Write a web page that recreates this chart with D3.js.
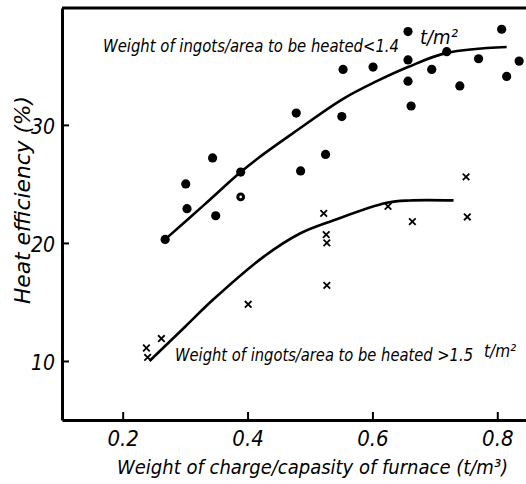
<!DOCTYPE html>
<html>
<head>
<meta charset="utf-8">
<script src="https://cdn.jsdelivr.net/npm/d3@7"></script>
<style>
  body { margin: 0; background: #fff; }
  svg text { font-family: "Liberation Sans Narrow", "DejaVu Sans Condensed", sans-serif; font-style: italic; fill: #000; }
</style>
</head>
<body>
<script>
// filled circles: weight of ingots/area < 1.4 t/m2
var lowLoadX = [0.268, 0.301, 0.303, 0.344, 0.349, 0.389, 0.478, 0.485, 0.525, 0.551, 0.553, 0.601, 0.657, 0.657, 0.657, 0.662, 0.695, 0.719, 0.740, 0.770, 0.807, 0.815, 0.835];
var lowLoadY = [20.3, 25.0, 22.9, 27.2, 22.3, 26.0, 31.0, 26.1, 27.5, 30.7, 34.7, 34.9, 37.9, 35.5, 33.7, 31.6, 34.7, 36.2, 33.3, 35.6, 38.1, 34.1, 35.4];
// the ringed point
var ringX = [0.389];
var ringY = [23.9];

// crosses: weight of ingots/area > 1.5 t/m2
var highLoadX = [0.238, 0.240, 0.262, 0.401, 0.522, 0.526, 0.527, 0.527, 0.625, 0.664, 0.750, 0.752];
var highLoadY = [11.1, 10.3, 11.9, 14.8, 22.5, 20.7, 20.0, 16.4, 23.1, 21.8, 25.6, 22.2];

// fitted curves
var upperCurveX = [0.268, 0.33, 0.389, 0.42, 0.473, 0.553, 0.607, 0.657, 0.719, 0.815];
var upperCurveY = [20.3, 23.2, 26.0, 27.3, 29.3, 32.2, 33.7, 34.9, 36.1, 36.6];
var lowerCurveX = [0.243, 0.30, 0.345, 0.425, 0.484, 0.537, 0.623, 0.66, 0.73];
var lowerCurveY = [10.0, 12.9, 15.2, 18.8, 20.8, 21.9, 23.4, 23.6, 23.6];

var xTicks = [0.2, 0.4, 0.6, 0.8];
var yTicks = [10, 20, 30];

function init() {
    var width = 526;
    var height = 484;

    var svg = d3.select("body").append("svg")
        .attr("width", width)
        .attr("height", height);

    var x = d3.scaleLinear().domain([0.1028, 0.846]).range([62, 526]);
    var y = d3.scaleLinear().domain([5, 39.9]).range([420, 8]);

    // axes with inner ticks
    var xAxis = svg.append("g")
        .attr("transform", "translate(0,420)")
        .call(d3.axisBottom(x).tickValues(xTicks).tickSizeInner(-8).tickSizeOuter(0).tickFormat(d3.format(".1f")));
    xAxis.select(".domain").attr("stroke-width", 3);
    xAxis.selectAll(".tick line").attr("stroke-width", 2);
    xAxis.selectAll(".tick text")
        .attr("y", 26)
        .attr("dy", 0)
        .attr("font-size", 22);

    var yAxis = svg.append("g")
        .attr("transform", "translate(62,0)")
        .call(d3.axisLeft(y).tickValues(yTicks).tickSizeInner(-7).tickSizeOuter(0));
    yAxis.select(".domain").attr("stroke-width", 3);
    yAxis.selectAll(".tick line").attr("stroke-width", 2);
    yAxis.selectAll(".tick text")
        .attr("x", -7)
        .attr("dy", "0.4em")
        .attr("font-size", 21);
    yAxis.selectAll("text").attr("font-family", null);
    xAxis.selectAll("text").attr("font-family", null);

    // top frame line
    svg.append("line")
        .attr("x1", x(0.1028)).attr("x2", x(0.846))
        .attr("y1", y(39.9)).attr("y2", y(39.9))
        .attr("stroke", "#000").attr("stroke-width", 3);

    // curves
    var line = d3.line()
        .x(function(d) { return x(d[0]); })
        .y(function(d) { return y(d[1]); })
        .curve(d3.curveCatmullRom);

    svg.append("path")
        .datum(d3.zip(upperCurveX, upperCurveY))
        .attr("d", line)
        .attr("fill", "none")
        .attr("stroke", "#000")
        .attr("stroke-width", 2.6);

    svg.append("path")
        .datum(d3.zip(lowerCurveX, lowerCurveY))
        .attr("d", line)
        .attr("fill", "none")
        .attr("stroke", "#000")
        .attr("stroke-width", 2.6);

    // filled circles
    svg.append("g").selectAll("circle")
        .data(d3.zip(lowLoadX, lowLoadY))
        .enter().append("circle")
        .attr("cx", function(d) { return x(d[0]); })
        .attr("cy", function(d) { return y(d[1]); })
        .attr("r", 4.6)
        .attr("fill", "#000");

    // ringed circle (filled with a small white centre)
    var ring = svg.append("g").selectAll("g")
        .data(d3.zip(ringX, ringY))
        .enter().append("g");
    ring.append("circle")
        .attr("cx", function(d) { return x(d[0]); })
        .attr("cy", function(d) { return y(d[1]); })
        .attr("r", 4.4).attr("fill", "#000");
    ring.append("circle")
        .attr("cx", function(d) { return x(d[0]); })
        .attr("cy", function(d) { return y(d[1]); })
        .attr("r", 1.3).attr("fill", "#fff");

    // crosses
    var crossSize = 3.3;
    svg.append("g").selectAll("path")
        .data(d3.zip(highLoadX, highLoadY))
        .enter().append("path")
        .attr("d", function(d) {
            var cx = x(d[0]), cy = y(d[1]), s = crossSize;
            return "M" + (cx - s) + "," + (cy - s) + "L" + (cx + s) + "," + (cy + s) +
                   "M" + (cx - s) + "," + (cy + s) + "L" + (cx + s) + "," + (cy - s);
        })
        .attr("stroke", "#000")
        .attr("stroke-width", 1.8);

    // series labels
    svg.append("text")
        .attr("x", 103).attr("y", 52)
        .attr("font-size", 18)
        .attr("textLength", 296)
        .attr("lengthAdjust", "spacingAndGlyphs")
        .text("Weight of ingots/area to be heated<1.4");
    svg.append("text")
        .attr("x", 420).attr("y", 44)
        .attr("font-size", 20)
        .text("t/m\u00b2");

    svg.append("text")
        .attr("x", 175).attr("y", 361)
        .attr("font-size", 17)
        .attr("textLength", 298)
        .attr("lengthAdjust", "spacingAndGlyphs")
        .text("Weight of ingots/area to be heated >1.5");
    svg.append("text")
        .attr("x", 484).attr("y", 357)
        .attr("font-size", 17)
        .text("t/m\u00b2");

    // axis titles
    svg.append("text")
        .attr("x", 117).attr("y", 474)
        .attr("font-size", 20)
        .text("Weight of charge/capasity of furnace (t/m\u00b3)");

    svg.append("text")
        .attr("transform", "translate(30,200) rotate(-90)")
        .attr("text-anchor", "middle")
        .attr("font-size", 22)
        .attr("textLength", 208)
        .attr("lengthAdjust", "spacingAndGlyphs")
        .text("Heat efficiency  (%)");
}

window.onload = init;
</script>
</body>
</html>
